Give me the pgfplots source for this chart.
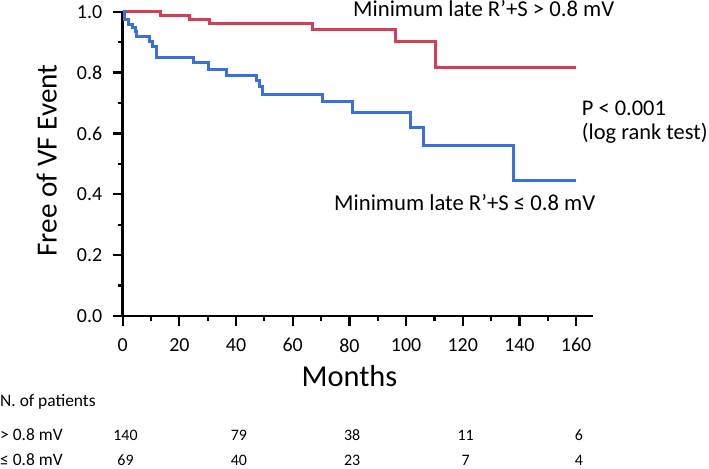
\documentclass[border=0pt]{standalone}
\usepackage{pgfplots}
\pgfplotsset{compat=1.18}
\usepackage{fontspec}
\setmainfont{Carlito}
\definecolor{kmred}{RGB}{208,64,86}
\definecolor{kmblue}{RGB}{59,111,222}
\tikzset{nums/.style={anchor=base, font=\fontsize{16}{19}\selectfont, inner sep=0pt}}
\begin{document}
\begin{tikzpicture}
\path[use as bounding box] (0,0) rectangle (709bp,469bp);
\begin{axis}[
  scale only axis, width=470.4bp, height=304.3bp,
  at={(122.7bp,153bp)}, anchor=south west,
  xmin=0, xmax=166, ymin=0, ymax=1,
  axis x line=bottom, axis y line=left,
  axis line style={-, line width=2.5bp},
  xtick={0,20,...,160}, minor xtick={10,30,...,150},
  ytick={0,0.2,0.4,0.6,0.8,1.0}, minor ytick={0.1,0.3,0.5,0.7,0.9},
  tick align=outside, major tick length=10bp, minor tick length=5bp,
  every tick/.style={black, line width=2.2bp},
  yticklabel style={/pgf/number format/fixed, /pgf/number format/fixed zerofill, /pgf/number format/precision=1, xshift=-7bp},
  xticklabel style={yshift=-9bp},
  ticklabel style={font=\fontsize{20}{24}\selectfont},
  /pgf/number format/assume math mode=true,
  clip=false,
]
\addplot[const plot, kmred, line width=3bp] coordinates {
 (0,1) (13.2,0.989) (23.5,0.973) (30.8,0.962) (67,0.942) (96.4,0.901) (110.5,0.818) (160,0.818)};
\addplot[const plot, kmblue, line width=3bp] coordinates {
 (0,1) (0.8,0.973) (2,0.959) (3.5,0.948) (4.6,0.934) (5,0.920) (9.6,0.901) (10.6,0.884) (12,0.849)
 (24.9,0.833) (30.2,0.811) (36.7,0.791) (47.3,0.775) (48.2,0.755) (49.4,0.727) (70.6,0.705)
 (81.2,0.670) (101.4,0.620) (106.3,0.560) (137.8,0.445) (160,0.445)};
\node[nums] at (axis cs:1,-0.4075) {140};
\node[nums] at (axis cs:41,-0.4075) {79};
\node[nums] at (axis cs:81,-0.4075) {38};
\node[nums] at (axis cs:121,-0.4075) {11};
\node[nums] at (axis cs:161,-0.4075) {6};
\node[nums] at (axis cs:1,-0.490) {69};
\node[nums] at (axis cs:41,-0.490) {40};
\node[nums] at (axis cs:81,-0.490) {23};
\node[nums] at (axis cs:121,-0.490) {7};
\node[nums] at (axis cs:161,-0.490) {4};
\end{axis}
\node[anchor=base west, inner sep=0pt, font=\fontsize{22.8}{26}\selectfont] at (353bp,452.3bp) {Minimum late R’+S > 0.8 mV};
\node[anchor=base west, inner sep=0pt, font=\fontsize{22.8}{26}\selectfont] at (334bp,258.8bp) {Minimum late R’+S ≤ 0.8 mV};
\node[anchor=base west, inner sep=0pt, font=\fontsize{22.5}{26}\selectfont] at (581.7bp,353bp) {P < 0.001};
\node[anchor=base west, inner sep=0pt, font=\fontsize{22.5}{26}\selectfont] at (581.7bp,329bp) {(log rank test)};
\node[anchor=base, inner sep=0pt, font=\fontsize{30.5}{36}\selectfont] at (349.5bp,82.3bp) {Months};
\node[rotate=90, anchor=base, inner sep=0pt, font=\fontsize{29.3}{34}\selectfont] at (56.7bp,308.5bp) {Free of VF Event};
\node[anchor=base west, inner sep=0pt, font=\fontsize{17.5}{21}\selectfont] at (0bp,62.3bp) {N. of patients};
\node[anchor=base west, inner sep=0pt, font=\fontsize{17.5}{21}\selectfont] at (0bp,29bp) {> 0.8 mV};
\node[anchor=base west, inner sep=0pt, font=\fontsize{17.5}{21}\selectfont] at (0bp,4bp) {≤ 0.8 mV};
\end{tikzpicture}
\end{document}
